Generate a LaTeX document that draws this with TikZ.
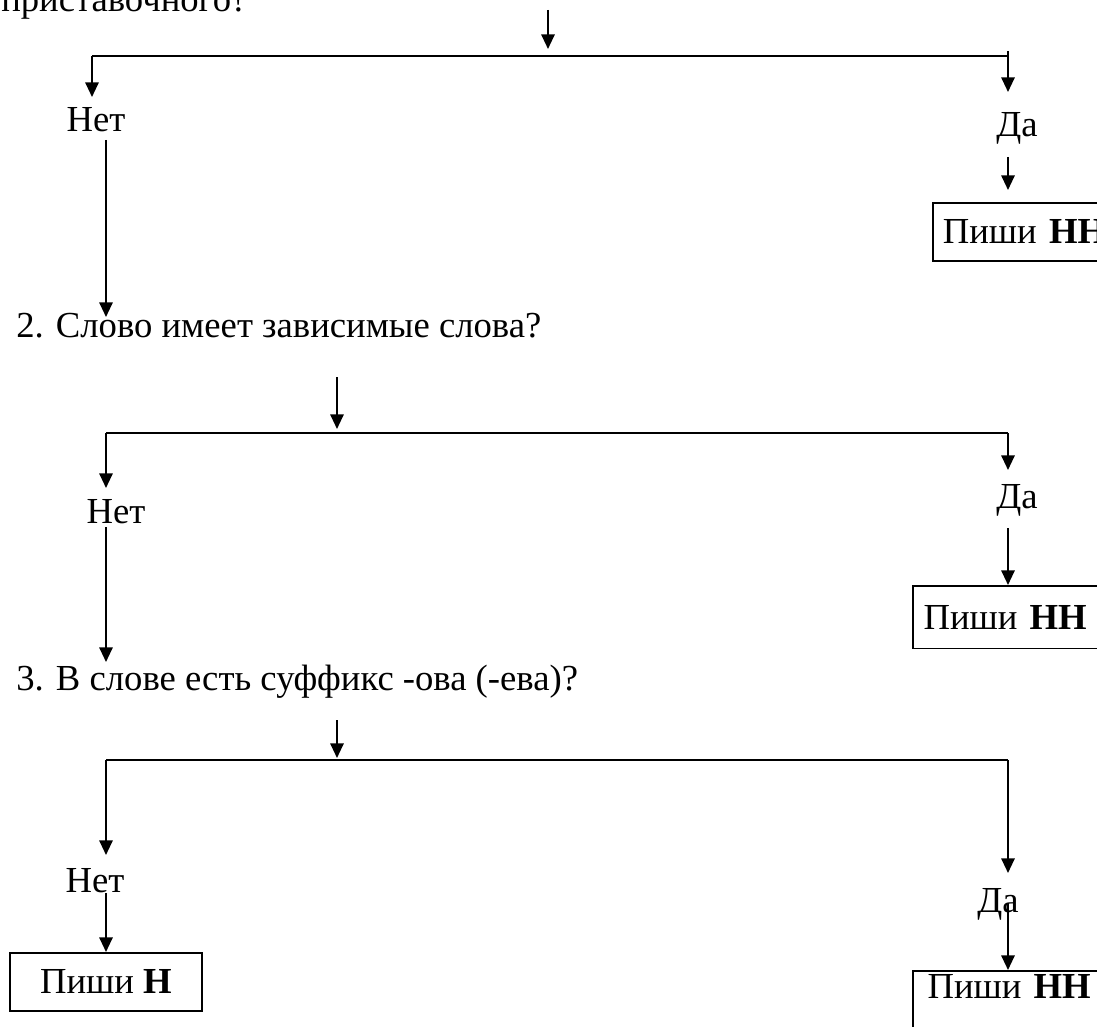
\documentclass[tikz,border=0pt]{standalone}
\usepackage{fontspec}
\setmainfont{Liberation Serif}
\usetikzlibrary{arrows.meta}
\begin{document}
\begin{tikzpicture}[x=0.75pt,y=-0.75pt,
  every node/.style={font=\fontsize{27.5}{32}\selectfont, inner sep=0pt},
  arr/.style={line width=1.5pt,-{Triangle[length=11pt,width=10pt]}},
  ln/.style={line width=1.5pt},
  boxl/.style={draw, line width=1.3pt, anchor=north west, text width=200pt, align=left, inner xsep=8pt, inner ysep=0pt},
  boxc/.style={draw, line width=1.3pt, anchor=north west, align=center, inner xsep=0pt, inner ysep=0pt}]
\useasboundingbox (0,0) rectangle (1097,1027);
\clip (0,0) rectangle (1097,1027);
% ---------- section 1
\node[anchor=base west] (q1) at (1,12) {приставочного?};
\coordinate (s1) at (548,10);
\coordinate (j1) at (548,49);
\coordinate (l1) at (92,56);
\coordinate (r1) at (1008,56);
\coordinate (r1t) at (1008,51);
\draw[arr] (s1) -- (j1);
\draw[ln] (l1) -- (r1);
\draw[arr] (l1) -- (92,97) coordinate (l1e);
\draw[arr] (r1t) -- (1008,92) coordinate (r1e);
\node[anchor=base] (no1) at (96,132) {Нет};
\node[anchor=base] (yes1) at (1017,137) {Да};
\coordinate (no1o) at (106,140);
\coordinate (q2in) at (106,317);
\draw[arr] (no1o) -- (q2in);
\coordinate (yes1o) at (1008,157);
\coordinate (yes1t) at (1008,190);
\draw[arr] (yes1o) -- (yes1t);
\node[boxl, inner xsep=7.5pt, minimum height=43.5pt] (b1) at (932,202) {Пиши \textbf{НН}};
% ---------- section 2
\node[anchor=base west] (q2) at (16,337) {2. Слово имеет зависимые слова?};
\coordinate (s2) at (337,377);
\coordinate (j2) at (337,429);
\coordinate (l2) at (106,433);
\coordinate (r2) at (1008,433);
\draw[arr] (s2) -- (j2);
\draw[ln] (l2) -- (r2);
\draw[arr] (l2) -- (106,488) coordinate (l2e);
\draw[arr] (r2) -- (1008,470) coordinate (r2e);
\node[anchor=base] (no2) at (116,523) {Нет};
\node[anchor=base] (yes2) at (1017,508) {Да};
\coordinate (no2o) at (106,527);
\coordinate (q3in) at (106,662);
\draw[arr] (no2o) -- (q3in);
\coordinate (yes2o) at (1008,528);
\node[boxl, minimum height=47pt] (b2) at (912,585) {Пиши \textbf{НН}};
\draw[arr] (yes2o) -- (yes2o |- b2.north);
% ---------- section 3
\node[anchor=base west] (q3) at (16,690) {3. В слове есть суффикс -ова (-ева)?};
\coordinate (s3) at (337,720);
\coordinate (j3) at (337,758);
\coordinate (l3) at (106,760);
\coordinate (r3) at (1008,760);
\draw[arr] (s3) -- (j3);
\draw[ln] (l3) -- (r3);
\draw[arr] (l3) -- (106,855) coordinate (l3e);
\draw[arr] (r3) -- (1008,873) coordinate (r3e);
\node[anchor=base] (no3) at (95,892) {Нет};
\node[anchor=base] (yes3) at (998,912) {Да};
\coordinate (no3o) at (106,893);
\node[boxc, minimum height=43.5pt, minimum width=144pt] (b3) at (9,952) {Пиши \textbf{Н}};
\draw[arr] (no3o) -- (no3o |- b3.north);
\coordinate (yes3o) at (1008,903);
\node[boxl, inner xsep=11pt, minimum height=45pt, text depth=21pt] (b4) at (912,970) {Пиши \textbf{НН}};
\draw[arr] (yes3o) -- (yes3o |- b4.north);
\end{tikzpicture}
\end{document}
